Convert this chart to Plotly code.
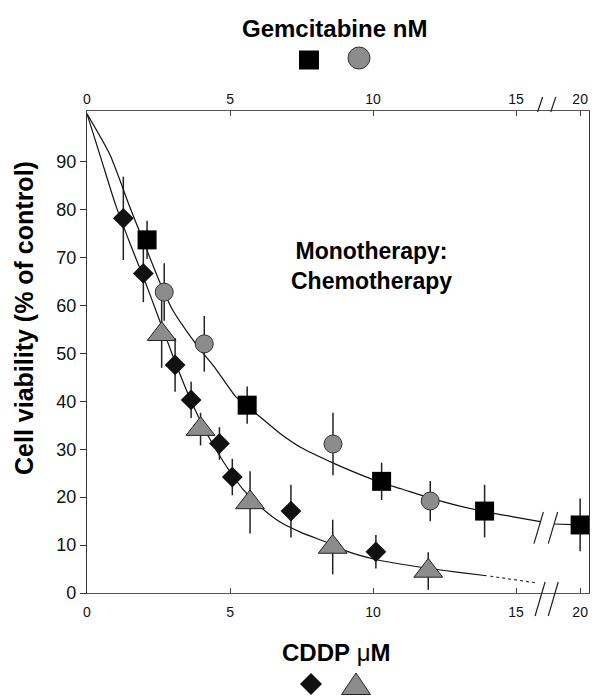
import plotly.graph_objects as go

# ---------------- data ----------------
# Gemcitabine (nM) – black squares
gem_sq_x = [2.1, 5.6, 10.3, 13.9, 20.0]
gem_sq_y = [73.7, 39.2, 23.3, 17.1, 14.2]
gem_sq_err = [4.0, 3.9, 3.9, 5.5, 5.5]
# Gemcitabine (nM) – grey circles
gem_ci_x = [2.7, 4.1, 8.6, 12.0]
gem_ci_y = [62.8, 52.0, 31.1, 19.2]
gem_ci_err = [6.0, 5.8, 6.5, 4.2]
# CDDP (uM) – black diamonds
cddp_di_x = [1.27, 1.97, 3.08, 3.64, 4.63, 5.08, 7.13, 10.1]
cddp_di_y = [78.2, 66.7, 47.6, 40.3, 31.2, 24.2, 17.1, 8.6]
cddp_di_err = [8.7, 6.0, 5.6, 3.8, 3.4, 3.8, 5.5, 3.5]
# CDDP (uM) – grey triangles
cddp_tr_x = [2.61, 3.97, 5.7, 8.59, 11.93]
cddp_tr_y = [54.0, 34.2, 18.9, 9.6, 4.6]
cddp_tr_err = [7.0, 3.4, 6.5, 5.7, 3.9]

# fitted curves
gem_fit_x = [0, 0.8, 1.5, 2.0, 2.5, 3.0, 3.5, 4.0, 4.5, 5.2, 6.0, 6.75, 7.5,
             8.65, 9.6, 10.3, 11.0, 12.0, 13.0, 13.9, 15.0, 15.85]
gem_fit_y = [100, 91.5, 80.5, 73, 65.5, 59, 54.5, 50.5, 46.8, 41.0, 37, 33.3, 30.3,
             27, 24.6, 23, 21.7, 19.8, 18.2, 17, 15.8, 14.9]
gem_fit2_x = [19.1, 20.0]
gem_fit2_y = [14.4, 14.2]
cddp_fit_x = [0, 0.5, 1.0, 1.5, 2.0, 2.5, 3.0, 3.5, 4.0, 4.5, 5.0, 5.5, 6.0,
              6.75, 7.5, 8.5, 9.1, 10.1, 11.0, 12.0, 13.0, 13.97]
cddp_fit_y = [100, 90.5, 81, 73, 65.5, 57.5, 49.5, 42, 35.5, 30, 25.3, 21.3, 18.3,
              14.8, 12.6, 10.3, 8.7, 7.0, 6.0, 5.1, 4.3, 3.6]
cddp_dot_x = [14.1, 14.9, 15.72]
cddp_dot_y = [3.5, 2.8, 2.1]

tick_vals_real = [0, 5, 10, 15, 20]
tick_text = ["0", "5", "10", "15", "20"]
y_ticks = [0, 10, 20, 30, 40, 50, 60, 70, 80, 90]

# broken x axis: values beyond the break are shifted left
BREAK_SHIFT = 2.76
def brk(v):
    return v if v < 17 else v - BREAK_SHIFT

def bl(values):
    return [brk(v) for v in values]

FONT = "Liberation Sans, Arial, sans-serif"
W, H = 592, 696
ML, MR, MT, MB = 87, 3, 111, 103
PW, PH = W - ML - MR, H - MT - MB       # 502 x 482

fig = go.Figure()

curve = dict(color="#111", width=1.2, shape="spline", smoothing=0.6)
fig.add_trace(go.Scatter(x=bl(gem_fit_x), y=gem_fit_y, mode="lines", line=curve,
                         xaxis="x2", yaxis="y", hoverinfo="skip"))
fig.add_trace(go.Scatter(x=bl(gem_fit2_x), y=gem_fit2_y, mode="lines", line=curve,
                         xaxis="x2", yaxis="y", hoverinfo="skip"))
fig.add_trace(go.Scatter(x=bl(cddp_fit_x), y=cddp_fit_y, mode="lines", line=curve,
                         hoverinfo="skip"))
fig.add_trace(go.Scatter(x=bl(cddp_dot_x), y=cddp_dot_y, mode="lines",
                         line=dict(color="#333", width=1.2, dash="dot"), hoverinfo="skip"))

def err(arr):
    return dict(type="data", array=arr, visible=True, color="#222", thickness=1.5, width=0)

fig.add_trace(go.Scatter(x=bl(gem_ci_x), y=gem_ci_y, mode="markers", xaxis="x2",
                         error_y=err(gem_ci_err), cliponaxis=False,
                         marker=dict(symbol="circle", size=18, color="#8c8c8c",
                                     line=dict(color="#333", width=1))))
fig.add_trace(go.Scatter(x=bl(gem_sq_x), y=gem_sq_y, mode="markers", xaxis="x2",
                         error_y=err(gem_sq_err), cliponaxis=False,
                         marker=dict(symbol="square", size=19, color="#000",
                                     line=dict(width=0))))
fig.add_trace(go.Scatter(x=bl(cddp_tr_x), y=cddp_tr_y, mode="markers",
                         error_y=err(cddp_tr_err), cliponaxis=False,
                         marker=dict(symbol="triangle-up", size=25, color="#8c8c8c",
                                     line=dict(color="#222", width=1))))
fig.add_trace(go.Scatter(x=bl(cddp_di_x), y=cddp_di_y, mode="markers",
                         error_y=err(cddp_di_err), cliponaxis=False,
                         marker=dict(symbol="diamond", size=16, color="#111",
                                     line=dict(width=0))))

xr = [0, brk(20.31)]
tickv = bl(tick_vals_real)
axcommon = dict(range=xr, tickmode="array", tickvals=tickv, ticktext=tick_text,
                ticks="inside", ticklen=5, tickcolor="#444", showline=True,
                linecolor="#555", linewidth=1.2, showgrid=False, zeroline=False,
                tickfont=dict(family=FONT, size=14, color="#111"))
fig.update_layout(
    width=W, height=H, margin=dict(l=ML, r=MR, t=MT, b=MB, autoexpand=False),
    paper_bgcolor="white", plot_bgcolor="white", showlegend=False,
    xaxis=dict(**axcommon, side="bottom", ticklabelstandoff=6),
    xaxis2=dict(**axcommon, side="top", overlaying="x"),
    yaxis=dict(range=[0, 100.6], tickmode="array", tickvals=y_ticks,
               ticks="outside", ticklen=6, tickcolor="#333", showline=True,
               linecolor="#333", linewidth=1.4, mirror=True, showgrid=False,
               zeroline=False, tickfont=dict(family=FONT, size=18, color="#111")),
)

def px_x(p):
    return (p - ML) / PW

def px_y(p):
    return (MT + PH - p) / PH

ann = [
    dict(text="<b>Gemcitabine nM</b>", x=px_x(334), y=px_y(29), size=24, angle=0),
    dict(text="<b>CDDP</b> μ<b>M</b>", x=px_x(336), y=px_y(652), size=24, angle=0),
    dict(text="<b>Cell viability (% of control)</b>", x=px_x(24), y=px_y(318), size=25, angle=-90),
    dict(text="<b>Monotherapy:<br>Chemotherapy</b>", x=px_x(371), y=px_y(266), size=23, angle=0),
]
for a in ann:
    fig.add_annotation(text=a["text"], x=a["x"], y=a["y"], xref="paper", yref="paper",
                       showarrow=False, textangle=a["angle"], xanchor="center",
                       yanchor="middle", align="center",
                       font=dict(family=FONT, size=a["size"], color="#000"))

# legend symbols beside the axis titles (window pixel positions)
def sym_shape(kind, cx, cy, fill, outline):
    base = dict(xref="paper", yref="paper", xsizemode="pixel", ysizemode="pixel",
                xanchor=px_x(cx), yanchor=px_y(cy), fillcolor=fill,
                line=dict(color=outline, width=1 if outline else 0), layer="above")
    if kind == "square":
        fig.add_shape(type="rect", x0=-10, x1=10, y0=-9.5, y1=9.5, **base)
    elif kind == "circle":
        fig.add_shape(type="circle", x0=-11, x1=11, y0=-11, y1=11, **base)
    elif kind == "diamond":
        fig.add_shape(type="path", path="M-11,0 L0,11 L11,0 L0,-11 Z", **base)
    elif kind == "triangle":
        fig.add_shape(type="path", path="M-14.5,-10.5 L14.5,-10.5 L0,11 Z", **base)

sym_shape("square", 309, 60, "#000", None)
sym_shape("circle", 359, 58, "#8c8c8c", "#333")
sym_shape("diamond", 311, 684, "#111", None)
sym_shape("triangle", 356, 684, "#8c8c8c", "#222")

# axis-break slashes
slash = dict(color="#222", width=1.2)
for xb in [15.79, 16.29]:
    fig.add_shape(type="line", xref="x", yref="y", xsizemode="pixel", ysizemode="pixel",
                  xanchor=xb, yanchor=13.6, x0=-4.7, x1=4.7, y0=-15.8, y1=15.8, line=slash)
for xb in [15.84, 16.30]:
    fig.add_shape(type="line", xref="x", yref="paper", xsizemode="pixel", ysizemode="pixel",
                  xanchor=xb, yanchor=0, x0=-5, x1=5, y0=-23, y1=11, line=slash)
    fig.add_shape(type="line", xref="x", yref="paper", xsizemode="pixel", ysizemode="pixel",
                  xanchor=xb, yanchor=1, x0=-2.5, x1=2.5, y0=-1, y1=14, line=slash)

# remove the page's default 8px body margin so the 592x696 figure fills the window
fig.write_html("out.html", config={"displayModeBar": False},
               post_script="document.body.style.margin='0';document.body.style.overflow='hidden';")
